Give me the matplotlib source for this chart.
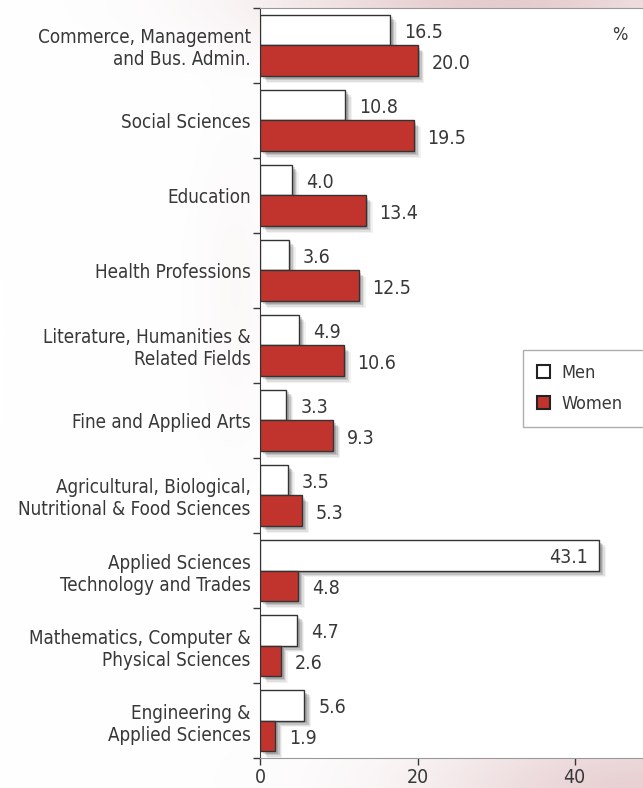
import numpy as np
import matplotlib
matplotlib.use("Agg")
import matplotlib.pyplot as plt
import matplotlib.patheffects as pe
from matplotlib.patches import Patch

plt.rcParams['font.family'] = ['DejaVu Sans']
plt.rcParams['font.stretch'] = 'condensed'

categories = [
    "Commerce, Management\nand Bus. Admin.",
    "Social Sciences",
    "Education",
    "Health Professions",
    "Literature, Humanities &\nRelated Fields",
    "Fine and Applied Arts",
    "Agricultural, Biological,\nNutritional & Food Sciences",
    "Applied Sciences\nTechnology and Trades",
    "Mathematics, Computer &\nPhysical Sciences",
    "Engineering &\nApplied Sciences",
]
men = [16.5, 10.8, 4.0, 3.6, 4.9, 3.3, 3.5, 43.1, 4.7, 5.6]
women = [20.0, 19.5, 13.4, 12.5, 10.6, 9.3, 5.3, 4.8, 2.6, 1.9]

RED = "#c1332d"
TXT = "#383838"

fig = plt.figure(figsize=(6.43, 7.88), dpi=100)

# soft pink glow behind the panel
bg = fig.add_axes([0, 0, 1, 1], zorder=-10)
yy, xx = np.mgrid[0:788, 0:643]
glow = np.exp(-(((xx - 500) / 220.0) ** 2 + ((yy - 0) / 50.0) ** 2))
glow += 0.9 * np.exp(-(((xx - 643) / 220.0) ** 2 + ((yy - 788) / 70.0) ** 2))
glow += 0.12 * np.exp(-(((xx - 235) / 40.0) ** 2 + ((yy - 290) / 150.0) ** 2))
glow = np.clip(glow, 0, 1)
base = np.ones((788, 643, 3))
pink = np.array([0.90, 0.80, 0.81])
img = base * (1 - glow[..., None]) + pink * glow[..., None]
bg.imshow(img, aspect="auto", extent=[0, 1, 0, 1])
bg.axis("off")

ax = fig.add_axes([0.405, 0.038, 0.595, 0.952])
ax.set_facecolor("white")

y = np.arange(len(categories))
h = 0.41
shadow = [
    pe.SimplePatchShadow(offset=(5, -5), shadow_rgbFace="black", alpha=0.05),
    pe.SimplePatchShadow(offset=(4, -4), shadow_rgbFace="black", alpha=0.08),
    pe.SimplePatchShadow(offset=(3, -3), shadow_rgbFace="black", alpha=0.12),
    pe.SimplePatchShadow(offset=(2, -2), shadow_rgbFace="black", alpha=0.15),
    pe.Normal(),
]
bm = ax.barh(y - 0.205, men, height=h, color="white", edgecolor="#333333",
             linewidth=1.0, zorder=3)
bw = ax.barh(y + 0.205, women, height=h, color=RED, edgecolor="#333333",
             linewidth=1.0, zorder=3)
for b in list(bm) + list(bw):
    b.set_path_effects(shadow)

for i, v in enumerate(men):
    if v > 30:
        ax.annotate(f"{v:.1f}", (v, i - 0.205), xytext=(-8, -2),
                    textcoords="offset points", ha="right", va="center",
                    fontsize=14, color=TXT, zorder=5)
    else:
        ax.annotate(f"{v:.1f}", (v, i - 0.205), xytext=(10, -2),
                    textcoords="offset points", ha="left", va="center",
                    fontsize=14, color=TXT, zorder=5)
for i, v in enumerate(women):
    ax.annotate(f"{v:.1f}", (v, i + 0.205), xytext=(10, -2),
                textcoords="offset points", ha="left", va="center",
                fontsize=14, color=TXT, zorder=5)

ax.set_xlim(0, 48.7)
ax.set_ylim(9.5, -0.5)
ax.set_xticks([0, 20, 40])
ax.tick_params(axis="x", labelsize=14, colors=TXT, length=5, width=1, pad=2)
ax.set_yticks(np.arange(-0.5, 10, 1))
ax.set_yticklabels([])
ax.tick_params(axis="y", which="major", length=5, width=1, color=TXT)
ax.set_yticks(y, minor=True)
ax.set_yticklabels(categories, minor=True, fontsize=13.5, color=TXT,
                   linespacing=1.2)
ax.tick_params(axis="y", which="minor", length=0, pad=7)

ax.spines["right"].set_visible(False)
ax.spines["top"].set_color("#999999")
ax.spines["bottom"].set_color("#999999")
ax.spines["left"].set_color(TXT)

ax.text(0.94, 0.964, "%", transform=ax.transAxes, ha="center", va="center",
        fontsize=13, color=TXT)

handles = [Patch(facecolor="white", edgecolor="#222222", linewidth=1.5, label="Men"),
           Patch(facecolor=RED, edgecolor="#222222", linewidth=1.5, label="Women")]
# legend box runs off the right edge
leg = ax.legend(handles=handles, loc="upper left",
                bbox_to_anchor=(0.687, 0.444, 0.36, 0.1), mode="expand",
                frameon=True, fancybox=False, fontsize=13, handlelength=0.75,
                handleheight=0.75, handletextpad=0.6, labelspacing=0.75,
                borderpad=0.75, borderaxespad=0, labelcolor=TXT)
leg.get_frame().set_edgecolor("#999999")
leg.get_frame().set_linewidth(1.0)

fig.savefig("out.png", dpi=100)
